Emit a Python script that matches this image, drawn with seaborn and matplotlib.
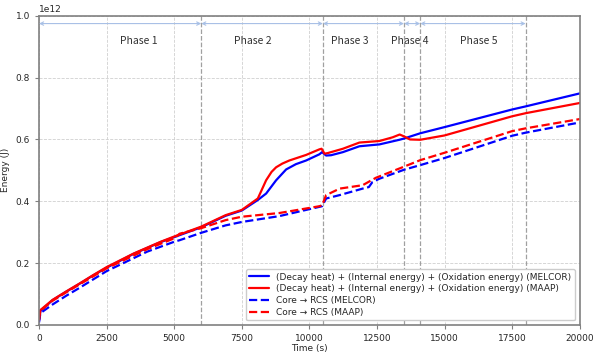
import numpy as np
import pandas as pd
import matplotlib
matplotlib.use("Agg")
import matplotlib.pyplot as plt
import seaborn as sns

# ---------------- data ----------------
t_melcor_total = [0, 50, 500, 1000, 1500, 2000, 2500, 3500, 4500, 5000, 6000, 6900, 7500,
                  8090, 8400, 8770, 9140, 9500, 9880, 10370, 10470, 10620, 10800, 11240,
                  11850, 12590, 13330, 13500, 14100, 15000, 17500, 18000, 20000]
e_melcor_total = [0.015, 0.045, 0.080, 0.107, 0.133, 0.160, 0.185, 0.230, 0.268, 0.284, 0.316,
                  0.353, 0.370, 0.404, 0.425, 0.468, 0.503, 0.520, 0.532, 0.552, 0.559, 0.548,
                  0.549, 0.559, 0.578, 0.584, 0.599, 0.603, 0.620, 0.640, 0.697, 0.707, 0.749]

t_maap_total = [0, 50, 500, 1000, 1500, 2000, 2500, 3500, 4500, 5000, 6000, 6900, 7500,
                8093, 8400, 8600, 8770, 9000, 9260, 9880, 10370, 10450, 10560, 10680, 11240,
                11850, 12590, 13080, 13340, 13500, 13720, 14100, 15000, 17500,
                18000, 20000]
e_maap_total = [0.02, 0.048, 0.081, 0.108, 0.134, 0.161, 0.187, 0.231, 0.269, 0.286, 0.318,
                0.355, 0.372, 0.409, 0.468, 0.495, 0.510, 0.522, 0.532, 0.550, 0.568, 0.570,
                0.554, 0.556, 0.570, 0.590, 0.595, 0.607, 0.616, 0.610, 0.600, 0.599,
                0.613, 0.675, 0.685, 0.718]

t_melcor_rcs = [0, 50, 500, 1000, 1500, 2500, 4000, 5000, 5200, 6000, 6900, 7500, 8890,
                10370, 10470, 10620, 11120, 11970, 12200, 12330, 12590, 13500, 14100,
                15000, 17500, 18000, 20000]
e_melcor_rcs = [0.008, 0.038, 0.066, 0.094, 0.120, 0.174, 0.237, 0.269, 0.274, 0.298, 0.322,
                0.333, 0.352, 0.382, 0.384, 0.409, 0.420, 0.441, 0.446, 0.462, 0.473, 0.502,
                0.517, 0.540, 0.612, 0.622, 0.655]

t_maap_rcs = [0, 50, 500, 1000, 1500, 2500, 4000, 5000, 5200, 6000, 6900, 7500, 8890,
              10370, 10470, 10620, 11120, 11970, 12460, 13500, 14100, 15000, 17500,
              18000, 20000]
e_maap_rcs = [0.015, 0.045, 0.078, 0.105, 0.131, 0.183, 0.245, 0.280, 0.295, 0.313, 0.339,
              0.350, 0.362, 0.384, 0.387, 0.420, 0.441, 0.452, 0.476, 0.512, 0.533,
              0.557, 0.627, 0.636, 0.666]

phase_bounds = [0, 6000, 10500, 13500, 14100, 18000]
phase_labels = ["Phase 1", "Phase 2", "Phase 3", "Phase 4", "Phase 5"]
phase_label_x = [3700, 7900, 11500, 13700, 16250]

series_labels = [
    "(Decay heat) + (Internal energy) + (Oxidation energy) (MELCOR)",
    "(Decay heat) + (Internal energy) + (Oxidation energy) (MAAP)",
    "Core \u2192 RCS (MELCOR)",
    "Core \u2192 RCS (MAAP)",
]

SCALE = 1e12

# ---------------- plot ----------------
sns.set_style("white")
plt.rcParams["font.family"] = ["DejaVu Sans"]

fig = plt.figure(figsize=(5.94, 3.52), dpi=100)
ax = fig.add_axes([0.0657, 0.077, 0.9103, 0.878])

series = [
    (t_melcor_total, e_melcor_total, "blue", "-"),
    (t_maap_total, e_maap_total, "red", "-"),
    (t_melcor_rcs, e_melcor_rcs, "blue", "--"),
    (t_maap_rcs, e_maap_rcs, "red", "--"),
]
for (tt, ee, col, ls), lab in zip(series, series_labels):
    df = pd.DataFrame({"t": tt, "e": np.array(ee) * SCALE})
    sns.lineplot(data=df, x="t", y="e", ax=ax, color=col, linestyle=ls,
                 linewidth=1.6, label=lab)

ax.set_xlim(0, 20000)
ax.set_ylim(0, 1.0e12)
ax.set_xticks(np.arange(0, 20001, 2500))
ax.set_yticks(np.arange(0, 1.01e12, 0.2e12))
ax.grid(True, linestyle="--", color="#d0d0d0", linewidth=0.6)
ax.set_axisbelow(True)

for b in phase_bounds[1:]:
    ax.axvline(b, color="#a0a0a0", linestyle="--", linewidth=0.9, zorder=1)

for i in range(len(phase_labels)):
    ax.annotate("", xy=(phase_bounds[i + 1], 0.975e12), xytext=(phase_bounds[i], 0.975e12),
                arrowprops=dict(arrowstyle="<->", color="#a8c0e6", lw=0.8,
                                shrinkA=0, shrinkB=0, mutation_scale=6))
    ax.text(phase_label_x[i], 0.92e12, phase_labels[i], ha="center", va="center",
            fontsize=7.5, color="#333333", family=["Noto Sans CJK KR", "DejaVu Sans"])

for sp in ax.spines.values():
    sp.set_color("#808080")
    sp.set_linewidth(1.2)

ax.tick_params(axis="both", labelsize=6.5, length=3, color="#808080", direction="out",
               bottom=True, left=True)
ax.yaxis.get_offset_text().set_fontsize(6.5)
ax.set_xlabel("Time (s)", fontsize=6.5, labelpad=1)
ax.set_ylabel("Energy (J)", fontsize=6.5, labelpad=4)

leg = ax.legend(loc="lower right", fontsize=6.5, frameon=True, framealpha=1.0,
                edgecolor="#cccccc", handlelength=2.2, borderaxespad=0.5,
                labelspacing=0.3)

fig.savefig("out.png", dpi=100)
